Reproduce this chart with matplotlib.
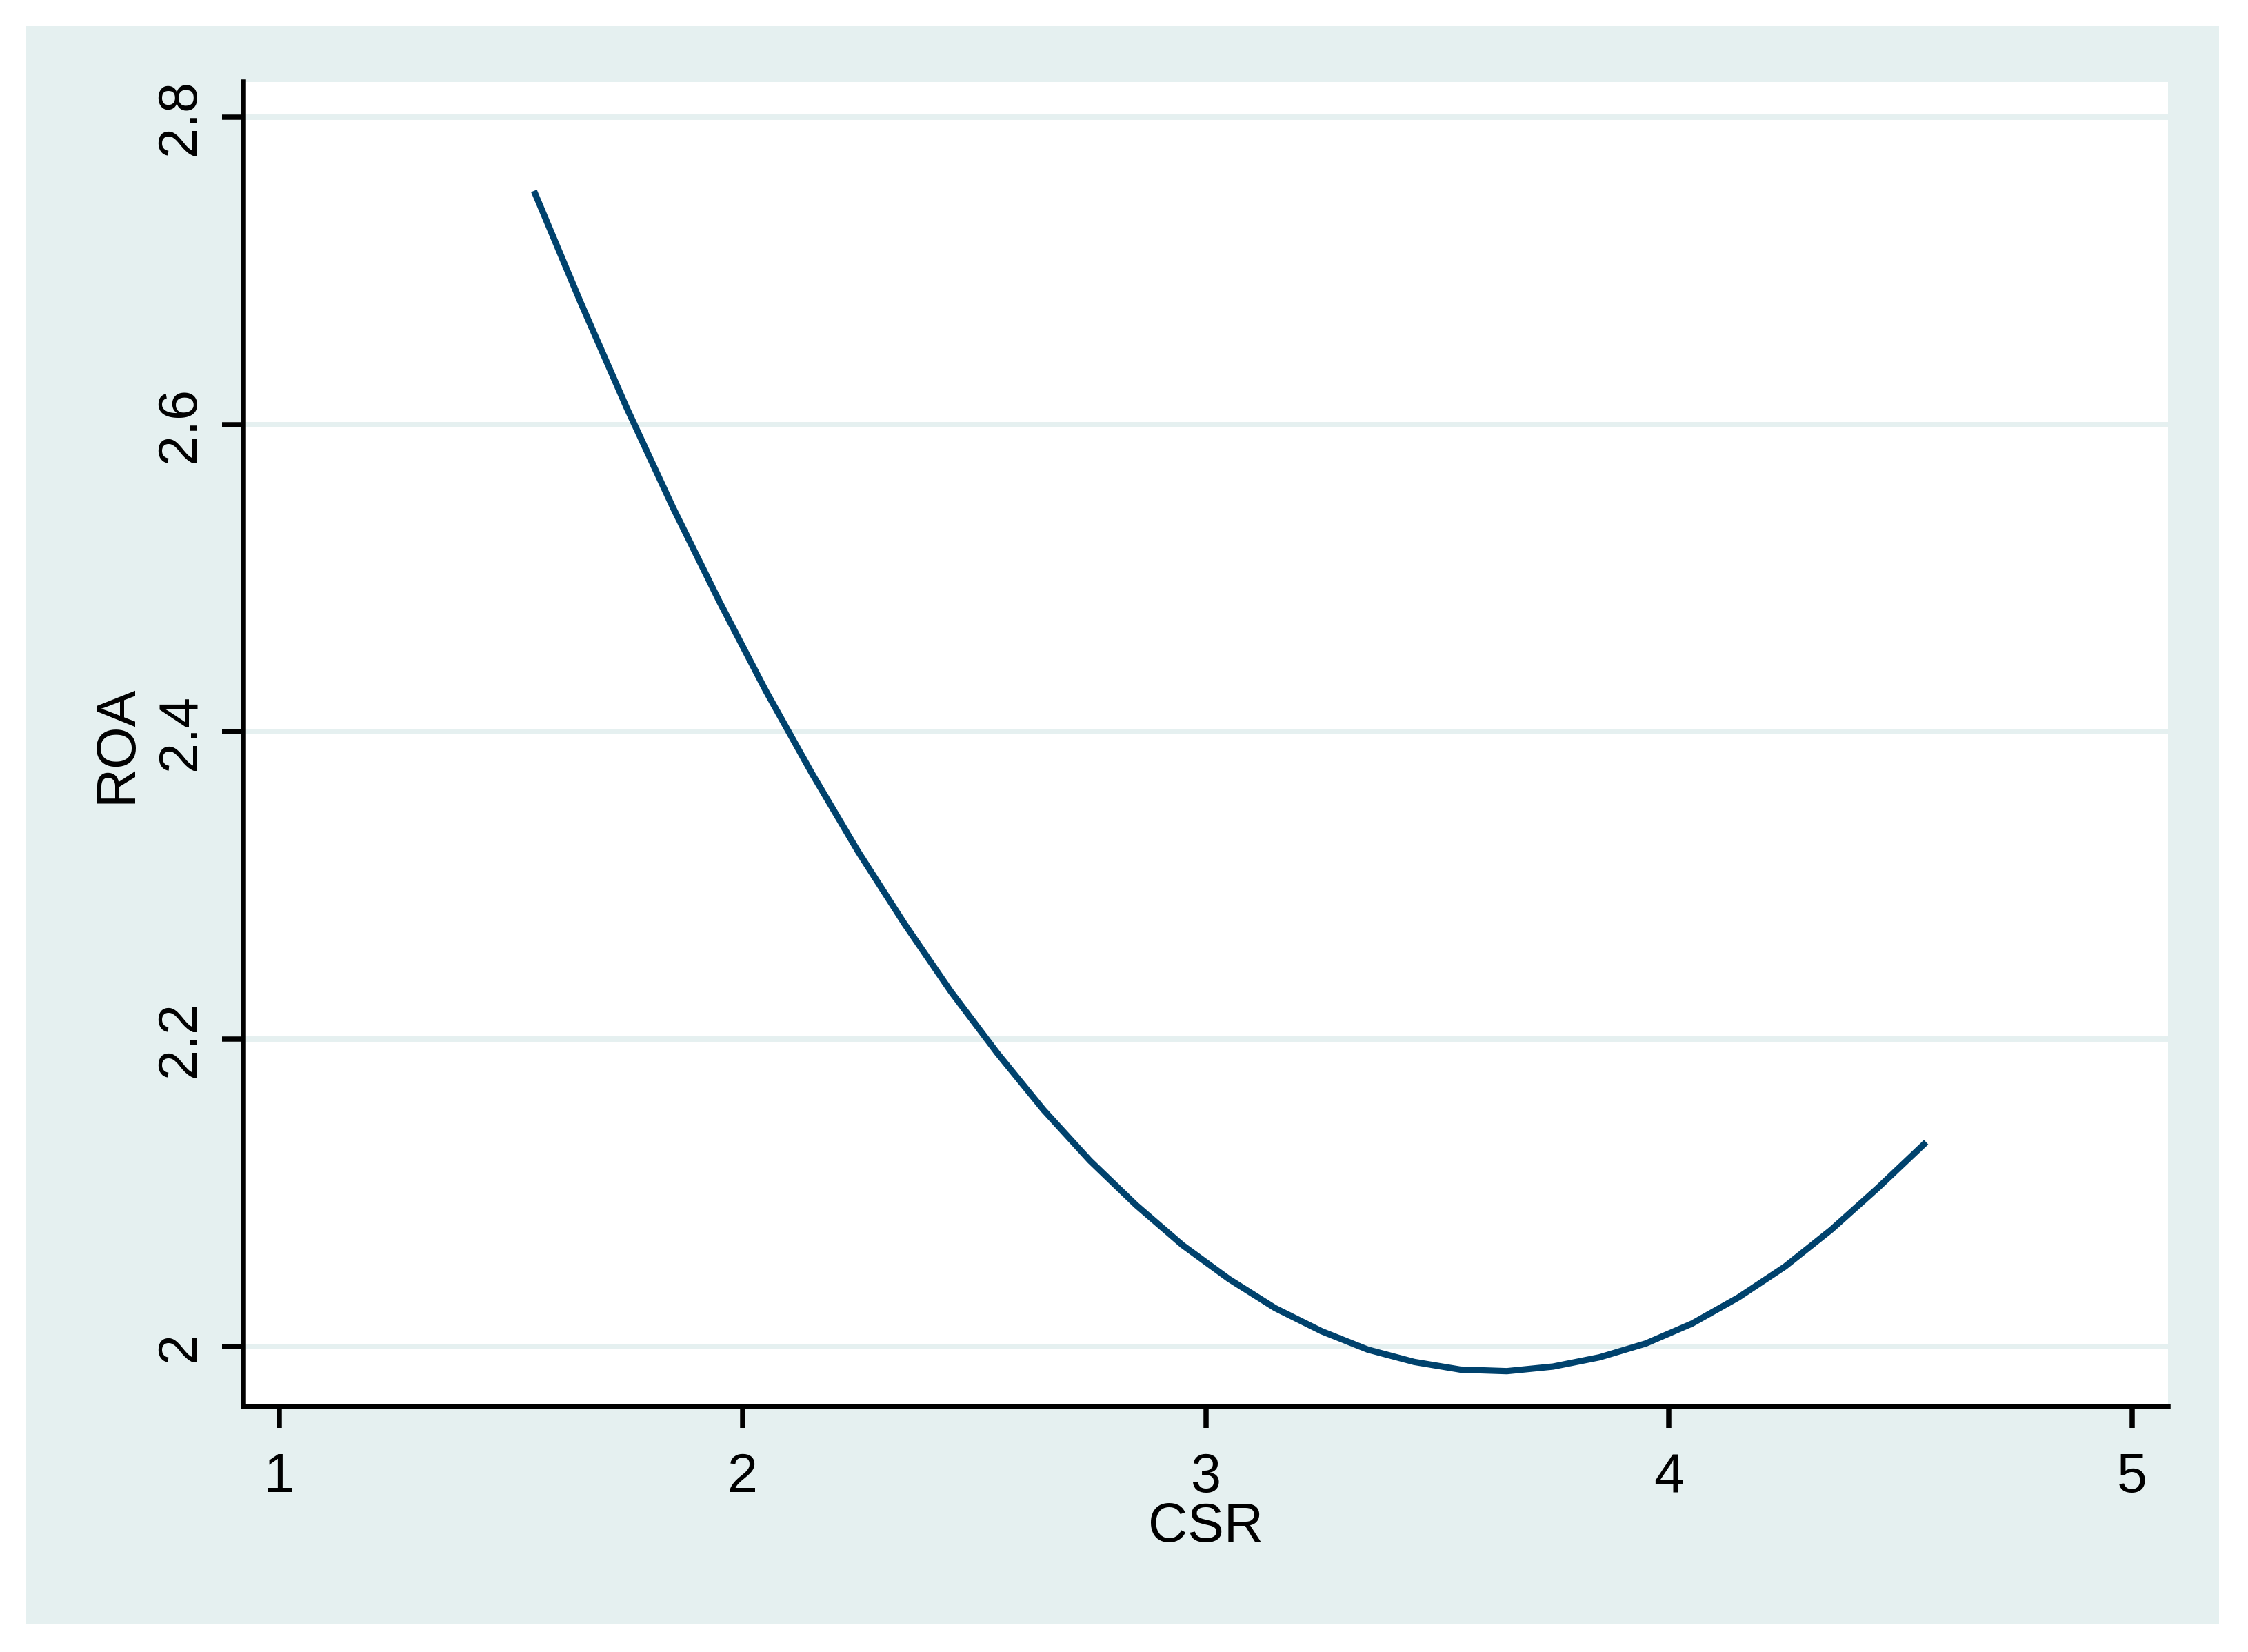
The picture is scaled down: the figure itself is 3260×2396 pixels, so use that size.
import matplotlib
matplotlib.use("Agg")
import matplotlib.pyplot as plt
from matplotlib.patches import Rectangle

# === DATA ====================================================================
csr = [1.55, 1.65, 1.75, 1.85, 1.95, 2.05, 2.15, 2.25, 2.35, 2.45, 2.55,
       2.65, 2.75, 2.85, 2.95, 3.05, 3.15, 3.25, 3.35, 3.45, 3.55, 3.65,
       3.75, 3.85, 3.95, 4.05, 4.15, 4.25, 4.35, 4.45, 4.555]
roa = [2.752, 2.680, 2.611, 2.546, 2.485, 2.427, 2.373, 2.322, 2.275, 2.231,
       2.191, 2.154, 2.121, 2.092, 2.066, 2.044, 2.025, 2.010, 1.998, 1.990,
       1.985, 1.984, 1.987, 1.993, 2.002, 2.015, 2.032, 2.052, 2.076, 2.103,
       2.133]
x_ticks = [1, 2, 3, 4, 5]
y_ticks = [2.0, 2.2, 2.4, 2.6, 2.8]
y_ticklabels = ["2", "2.2", "2.4", "2.6", "2.8"]

# === STYLE ===================================================================
panel = "#e5f0f0"
navy = "#00426d"
plt.rcParams["font.family"] = ["Liberation Sans", "DejaVu Sans"]

fig = plt.figure(figsize=(3260 / 300, 2396 / 300), dpi=300, facecolor="white")
fig.patches.append(Rectangle((0.0113, 0.0167), 0.9758, 0.9679,
                             transform=fig.transFigure, facecolor=panel,
                             edgecolor="none", zorder=-10))

ax = fig.add_axes([0.1083, 0.1486, 0.8561, 0.8019])
ax.set_facecolor("white")

ax.plot(csr, roa, color=navy, lw=2.2, solid_capstyle="butt", zorder=3)

ax.set_xlim(0.923, 5.077)
ax.set_ylim(1.961, 2.823)
ax.set_xticks(x_ticks)
ax.set_yticks(y_ticks)
ax.set_yticklabels(y_ticklabels, rotation=90, va="center")

for y in y_ticks:
    ax.axhline(y, color=panel, lw=1.9, zorder=1)

for side in ["top", "right"]:
    ax.spines[side].set_visible(False)
for side in ["left", "bottom"]:
    ax.spines[side].set_linewidth(1.8)
    ax.spines[side].set_color("black")

ax.tick_params(axis="both", length=7.4, width=1.8, labelsize=19, color="black")
ax.tick_params(axis="x", pad=8.5)
ax.tick_params(axis="y", pad=5.5)

ax.set_xlabel("CSR", fontsize=19, va="center")
ax.set_ylabel("ROA", fontsize=19, va="center")
ax.xaxis.set_label_coords(0.5, -0.0916)
ax.yaxis.set_label_coords(-0.0656, 0.5)

fig.savefig("out.png", dpi=300, facecolor="white")
